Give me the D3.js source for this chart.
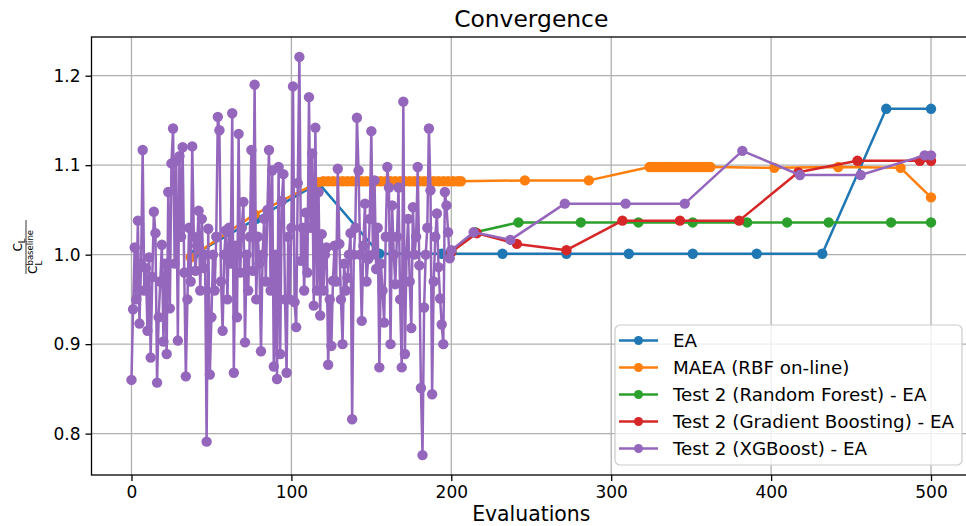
<!DOCTYPE html>
<html>
<head>
<meta charset="utf-8">
<title>Convergence</title>
<style>
  body { margin: 0; background: #fff; }
  svg { font-family: "DejaVu Sans", sans-serif; }
</style>
<script src="https://d3js.org/d3.v7.min.js"></script>
</head>
<body>
<script>
// ---- values ----
var seriesNames = ["EA", "MAEA (RBF on-line)", "Test 2 (Random Forest) - EA",
                   "Test 2 (Gradient Boosting) - EA", "Test 2 (XGBoost) - EA"];
var colors = ["#1f77b4", "#ff7f0e", "#2ca02c", "#d62728", "#9467bd"];

var xTicks = [0, 100, 200, 300, 400, 500];
var yTicks = [0.8, 0.9, 1.0, 1.1, 1.2];

var eaEvals  = [39, 78, 117, 155, 194, 232, 272, 311, 351, 391, 432, 472, 500];
var eaValues = [1.000, 1.040, 1.080, 1.001, 1.001, 1.001, 1.001, 1.001, 1.001, 1.001, 1.001, 1.163, 1.163];

var maeaEvals = [37, 77, 117, 120, 123, 126, 129, 132, 135, 138, 141, 144, 147, 150, 153, 156, 159,
                 162, 165, 168, 171, 174, 177, 180, 183, 186, 189, 192, 195, 198, 201, 204, 206,
                 246, 286, 324, 326, 328, 330, 332, 334, 336, 338, 340, 342, 344, 346, 348, 350,
                 352, 354, 356, 358, 360, 362, 402, 442, 481, 500];
var maeaValues = [0.997, 1.045, 1.081, 1.082, 1.082, 1.082, 1.082, 1.082, 1.082, 1.082, 1.082, 1.082,
                  1.082, 1.082, 1.082, 1.082, 1.082, 1.082, 1.082, 1.082, 1.082, 1.082, 1.082, 1.082,
                  1.082, 1.082, 1.082, 1.082, 1.082, 1.082, 1.082, 1.082, 1.082,
                  1.083, 1.083, 1.098, 1.098, 1.098, 1.098, 1.098, 1.098, 1.098, 1.098, 1.098, 1.098,
                  1.098, 1.098, 1.098, 1.098, 1.098, 1.098, 1.098, 1.098, 1.098, 1.098,
                  1.097, 1.098, 1.097, 1.064];

var rfEvals  = [200, 215, 242, 281, 317, 351, 385, 410, 436, 475, 500];
var rfValues = [1.003, 1.025, 1.036, 1.036, 1.036, 1.036, 1.036, 1.036, 1.036, 1.036, 1.036];

var gbEvals  = [200, 216, 241, 272, 307, 343, 380, 417, 454, 493, 500];
var gbValues = [1.003, 1.024, 1.012, 1.005, 1.038, 1.038, 1.038, 1.092, 1.105, 1.105, 1.105];

// XGBoost run: one value per evaluation from 0 to 200, then the sparse tail
var xgbDense = [
  0.860, 0.939, 1.008, 0.950, 1.038, 0.923, 0.990, 1.117, 0.960, 0.985,
  0.915, 0.997, 0.885, 0.975, 1.048, 1.024, 0.857, 0.930, 0.970, 1.011,
  0.903, 0.990, 0.889, 1.070, 0.940, 1.102, 1.141, 0.990, 1.105, 0.904,
  1.110, 1.020, 1.120, 0.980, 0.864, 0.950, 1.030, 0.970, 1.121, 1.020,
  0.982, 1.010, 1.049, 0.960, 1.040, 0.985, 1.000, 0.791, 1.029, 0.866,
  0.930, 1.000, 0.960, 1.020, 1.154, 1.139, 0.970, 0.915, 1.000, 1.027,
  0.950, 1.030, 0.990, 1.158, 0.868, 1.010, 0.930, 1.135, 0.980, 1.030,
  1.059, 0.902, 1.000, 0.960, 1.020, 1.117, 0.982, 1.190, 0.950, 1.020,
  0.990, 0.892, 1.000, 1.040, 0.970, 1.050, 1.117, 0.960, 1.094, 0.875,
  1.000, 0.861, 1.098, 0.889, 1.060, 1.090, 0.950, 0.868, 1.020, 0.950,
  1.030, 1.188, 0.947, 0.919, 1.080, 1.221, 0.993, 1.030, 0.960, 1.047,
  0.980, 1.176, 1.030, 1.113, 0.943, 1.142, 0.960, 1.070, 0.932, 1.023,
  0.960, 1.000, 1.008, 0.877, 0.950, 0.898, 0.971, 1.010, 0.970, 1.096,
  1.012, 0.950, 0.900, 0.990, 0.960, 0.974, 1.000, 1.024, 0.816, 1.000,
  1.030, 1.153, 1.094, 1.000, 0.926, 1.010, 1.057, 0.970, 0.995, 1.040,
  1.138, 1.000, 1.083, 0.984, 1.030, 0.874, 0.990, 0.960, 0.924, 1.020,
  1.098, 1.075, 0.900, 1.055, 1.000, 0.967, 1.020, 1.075, 0.950, 0.874,
  1.171, 0.889, 1.000, 1.040, 0.970, 0.918, 1.053, 1.000, 1.020, 1.098,
  0.988, 0.851, 0.776, 0.941, 1.000, 1.030, 1.141, 1.072, 0.844, 0.970,
  1.020, 1.046, 0.986, 0.951, 0.922, 0.900, 1.070, 1.055, 1.025, 0.996,
  1.005
];
var xgbTailEvals  = [214, 237, 271, 309, 346, 382, 418, 456, 496, 500];
var xgbTailValues = [1.025, 1.0165, 1.057, 1.057, 1.057, 1.116, 1.089, 1.089, 1.111, 1.111];

(function () {
  function zipPts(ev, vals) {
    return ev.map(function (e, i) { return { x: e, y: vals[i] }; });
  }
  var xgbPts = xgbDense.map(function (v, i) { return { x: i, y: v }; })
    .concat(zipPts(xgbTailEvals, xgbTailValues));

  var series = [
    zipPts(eaEvals, eaValues),
    zipPts(maeaEvals, maeaValues),
    zipPts(rfEvals, rfValues),
    zipPts(gbEvals, gbValues),
    xgbPts
  ];

  // ---- layout ----
  var width = 966, height = 526;
  var pL = 91.5, pR = 971, pT = 37, pB = 475;

  var allY = [].concat.apply([], series.map(function (s) { return s.map(function (d) { return d.y; }); }));
  var yMin = d3.min(allY), yMax = d3.max(allY), pad = (yMax - yMin) * 0.05;

  var x = d3.scaleLinear().domain([-25, 525]).range([pL, pR]);
  var y = d3.scaleLinear().domain([yMin - pad, yMax + pad]).range([pB, pT]);

  var svg = d3.select("body").append("svg")
    .attr("width", width).attr("height", height);

  svg.append("defs").append("clipPath").attr("id", "plotclip")
    .append("rect").attr("x", pL).attr("y", pT)
    .attr("width", pR - pL).attr("height", pB - pT);

  // grid
  svg.append("g").selectAll("line").data(xTicks).enter().append("line")
    .attr("x1", function (d) { return x(d); }).attr("x2", function (d) { return x(d); })
    .attr("y1", pT).attr("y2", pB)
    .attr("stroke", "#b0b0b0").attr("stroke-width", 1.3);
  svg.append("g").selectAll("line").data(yTicks).enter().append("line")
    .attr("y1", function (d) { return y(d); }).attr("y2", function (d) { return y(d); })
    .attr("x1", pL).attr("x2", pR)
    .attr("stroke", "#b0b0b0").attr("stroke-width", 1.3);

  // series
  var line = d3.line().x(function (d) { return x(d.x); }).y(function (d) { return y(d.y); });
  var plot = svg.append("g").attr("clip-path", "url(#plotclip)");

  series.forEach(function (pts, k) {
    var g = plot.append("g");
    g.append("path").datum(pts)
      .attr("d", line)
      .attr("fill", "none")
      .attr("stroke", colors[k])
      .attr("stroke-width", 2.5)
      .attr("stroke-linejoin", "round");
    g.selectAll("circle").data(pts).enter().append("circle")
      .attr("cx", function (d) { return x(d.x); })
      .attr("cy", function (d) { return y(d.y); })
      .attr("r", 5.2)
      .attr("fill", colors[k]);
  });

  // axes
  var xAxis = svg.append("g").attr("transform", "translate(0," + pB + ")")
    .call(d3.axisBottom(x).tickValues(xTicks).tickFormat(d3.format("d"))
          .tickSizeOuter(0).tickSize(6).tickPadding(5));
  var yAxis = svg.append("g").attr("transform", "translate(" + pL + ",0)")
    .call(d3.axisLeft(y).tickValues(yTicks).tickFormat(d3.format(".1f"))
          .tickSizeOuter(0).tickSize(6).tickPadding(5));
  [xAxis, yAxis].forEach(function (a) {
    a.select(".domain").remove();
    a.selectAll("line").attr("stroke", "#000").attr("stroke-width", 1.3);
    a.selectAll("text").attr("font-family", "DejaVu Sans").attr("font-size", 17).attr("fill", "#000");
  });

  // frame
  svg.append("rect").attr("x", pL).attr("y", pT)
    .attr("width", pR - pL).attr("height", pB - pT)
    .attr("fill", "none").attr("stroke", "#000").attr("stroke-width", 1.3);

  // title and labels
  svg.append("text").attr("x", (pL + pR) / 2).attr("y", 27)
    .attr("text-anchor", "middle").attr("font-size", 23.4).text("Convergence");
  svg.append("text").attr("x", (pL + pR) / 2).attr("y", 521)
    .attr("text-anchor", "middle").attr("font-size", 20.4).text("Evaluations");

  // y label: C_L / C_L^baseline
  var yl = svg.append("g").attr("transform", "translate(26,247) rotate(-90)")
    .attr("fill", "#000");
  var num = yl.append("text").attr("x", 2).attr("y", -4).attr("text-anchor", "middle").attr("font-size", 12);
  num.append("tspan").text("C");
  num.append("tspan").attr("font-size", 8.5).attr("dy", 2.5).text("L");
  yl.append("line").attr("x1", -27).attr("x2", 27).attr("y1", 0).attr("y2", 0)
    .attr("stroke", "#000").attr("stroke-width", 0.8);
  yl.append("text").attr("x", -27).attr("y", 11).attr("font-size", 12).text("C");
  yl.append("text").attr("x", -18.5).attr("y", 7).attr("font-size", 8.5).text("baseline");
  yl.append("text").attr("x", -18.5).attr("y", 15.5).attr("font-size", 8.5).text("L");

  // legend
  var lg = svg.append("g");
  lg.append("rect").attr("x", 615).attr("y", 325).attr("width", 347).attr("height", 140)
    .attr("rx", 5).attr("fill", "#fff").attr("fill-opacity", 0.8)
    .attr("stroke", "#cccccc").attr("stroke-width", 1.2);
  var rows = lg.selectAll("g.row").data(seriesNames).enter().append("g")
    .attr("class", "row")
    .attr("transform", function (d, i) { return "translate(0," + (340.5 + i * 27) + ")"; });
  rows.append("line").attr("x1", 619).attr("x2", 658).attr("y1", 0).attr("y2", 0)
    .attr("stroke", function (d, i) { return colors[i]; }).attr("stroke-width", 2.5);
  rows.append("circle").attr("cx", 638.5).attr("cy", 0).attr("r", 4.5)
    .attr("fill", function (d, i) { return colors[i]; });
  rows.append("text").attr("x", 673).attr("y", 6.5).attr("font-size", 18.3).text(function (d) { return d; });
})();
</script>
</body>
</html>
